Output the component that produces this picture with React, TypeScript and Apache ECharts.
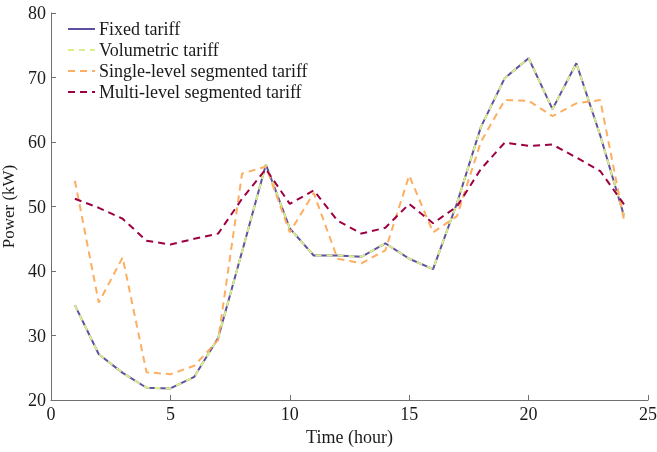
import React, { useEffect, useRef } from "react";
import * as echarts from "echarts";

const hours = [1, 2, 3, 4, 5, 6, 7, 8, 9, 10, 11, 12, 13, 14, 15, 16, 17, 18, 19, 20, 21, 22, 23, 24];
const fixedTariff = [34.7, 27.1, 24.2, 21.9, 21.8, 23.6, 29.6, 43.0, 56.5, 46.6, 42.4, 42.4, 42.2, 44.3, 41.9, 40.3, 50.5, 62.3, 69.9, 73.0, 65.1, 72.2, 61.0, 48.5];
const volumetricTariff = [34.7, 27.1, 24.2, 21.9, 21.8, 23.6, 29.6, 43.0, 56.5, 46.6, 42.4, 42.4, 42.2, 44.3, 41.9, 40.3, 50.5, 62.3, 69.9, 73.0, 65.1, 72.2, 61.0, 48.5];
const singleLevel = [54.0, 35.1, 42.1, 24.3, 24.0, 25.3, 29.3, 55.1, 56.2, 46.0, 52.1, 41.9, 41.2, 43.2, 54.8, 46.0, 48.5, 60.0, 66.5, 66.4, 64.0, 66.0, 66.5, 47.8];
const multiLevel = [51.2, 49.8, 48.1, 44.7, 44.1, 45.0, 45.8, 51.2, 55.8, 50.4, 52.5, 47.8, 45.8, 46.7, 50.4, 47.4, 50.0, 55.8, 59.9, 59.4, 59.6, 57.6, 55.5, 50.3];
const seriesNames = ["Fixed tariff", "Volumetric tariff", "Single-level segmented tariff", "Multi-level segmented tariff"];

const FONT = "Liberation Serif";

export default function App() {
  const ref = useRef<HTMLDivElement>(null);
  useEffect(() => {
    if (!ref.current) return;
    const chart = echarts.init(ref.current, null, { renderer: "svg" });
    const pair = (vals: number[]) => hours.map((h, i) => [h, vals[i]]);
    const mk = (name: string, vals: number[], color: string, type: any, width: number, z: number) => ({
      name,
      type: "line",
      data: pair(vals),
      symbol: "none",
      showSymbol: false,
      z,
      itemStyle: { color },
      lineStyle: { color, width, type },
    });
    chart.setOption({
      animation: false,
      textStyle: { fontFamily: FONT },
      grid: { left: 51, right: 9, top: 13, bottom: 52, containLabel: false, outerBoundsMode: "none" },
      legend: {
        orient: "vertical",
        left: 62,
        top: 15,
        itemWidth: 27,
        itemHeight: 10,
        itemGap: 3,
        data: seriesNames,
        itemStyle: { opacity: 0 },
        textStyle: { fontFamily: FONT, fontSize: 18, color: "#1a1a1a", padding: [0, 0, 0, -1] },
      },
      xAxis: {
        type: "value",
        min: 0,
        max: 25,
        interval: 5,
        name: "Time (hour)",
        nameLocation: "middle",
        nameGap: 28,
        nameTextStyle: { fontFamily: FONT, fontSize: 18, color: "#1a1a1a" },
        axisLine: { show: true, lineStyle: { color: "#707070", width: 1 } },
        axisTick: { show: true, inside: true, length: 5, lineStyle: { color: "#707070" } },
        axisLabel: { fontFamily: FONT, fontSize: 18, color: "#1a1a1a", margin: 5 },
        splitLine: { show: false },
      },
      yAxis: {
        type: "value",
        min: 20,
        max: 80,
        interval: 10,
        name: "Power (kW)",
        nameLocation: "middle",
        nameGap: 25,
        nameTextStyle: { fontFamily: FONT, fontSize: 17, color: "#1a1a1a" },
        axisLine: { show: true, lineStyle: { color: "#707070", width: 1 } },
        axisTick: { show: true, inside: true, length: 5, lineStyle: { color: "#707070" } },
        axisLabel: { fontFamily: FONT, fontSize: 18, color: "#1a1a1a", margin: 5 },
        splitLine: { show: false },
      },
      series: [
        mk(seriesNames[0], fixedTariff, "#5e4fa2", "solid", 2, 2),
        mk(seriesNames[1], volumetricTariff, "#d9ef8b", [6, 5], 2, 3),
        mk(seriesNames[2], singleLevel, "#fdae61", [7, 5], 2, 4),
        mk(seriesNames[3], multiLevel, "#9e0142", [7, 5], 2, 5),
      ],
    });
    return () => chart.dispose();
  }, []);
  return <div ref={ref} style={{ position: "fixed", left: 0, top: 0, width: 657, height: 452 }} />;
}
